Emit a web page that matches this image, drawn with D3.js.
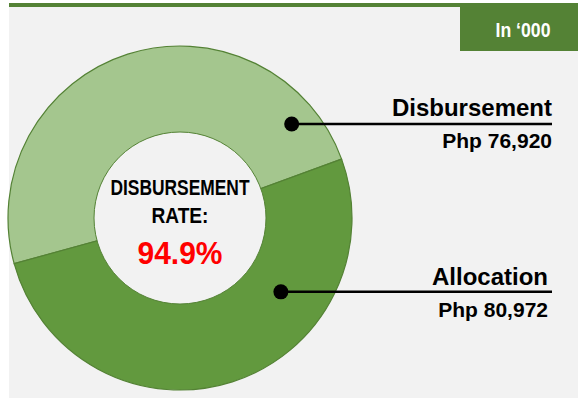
<!DOCTYPE html>
<html>
<head>
<meta charset="utf-8">
<script src="https://cdn.jsdelivr.net/npm/d3@7"></script>
<style>
  body { margin: 0; background: #fff; }
</style>
</head>
<body>
<div id="donut_part"></div>
<script>
// data
var categories = ["Disbursement", "Allocation"]
var amounts = [76920, 80972]
var amountLabels = ["Php 76,920", "Php 80,972"]
var rateLabel = "94.9%"
var unitLabel = "In \u2018000"

var width = 578,
    height = 401

var cx = 180,
    cy = 218,
    radius = 172,
    innerRadius = 86

var svg = d3.select("#donut_part")
            .append("svg")
            .attr("width", width)
            .attr("height", height)

// panel + top green strip
svg.append("rect")
    .attr("x", 9).attr("y", 7)
    .attr("width", width - 9).attr("height", height - 10)
    .style("fill", "#f2f2f2")
svg.append("rect")
    .attr("x", 9).attr("y", 3)
    .attr("width", width - 9).attr("height", 4)
    .style("fill", "#548235")

// unit badge
svg.append("rect")
    .attr("x", 460).attr("y", 7)
    .attr("width", width - 460).attr("height", 44)
    .style("fill", "#548235")
svg.append("text")
    .text(unitLabel)
    .attr("x", 523).attr("y", 37)
    .attr("text-anchor", "middle")
    .attr("textLength", 55)
    .attr("lengthAdjust", "spacingAndGlyphs")
    .style("fill", "#fff")
    .style("font-size", "21px")
    .style("font-weight", "bold")
    .style("font-family", "'Liberation Sans Narrow', 'Liberation Sans', Arial, sans-serif")

var data = categories.map(function(c, i) { return { name: c, value: amounts[i], label: amountLabels[i] } })

// start angle picked so the split sits like in the original
var start = -105.4 * Math.PI / 180
var pie = d3.pie()
            .sort(null)
            .startAngle(start)
            .endAngle(start + 2 * Math.PI)
            .value(function(d) { return d.value })

var slices = pie(data)

var arc = d3.arc()
            .innerRadius(0)
            .outerRadius(radius)

var color = d3.scaleOrdinal()
            .domain(categories)
            .range(["#a4c68e", "#62993e"])

var g = svg.append("g")
            .attr("transform", "translate(" + cx + "," + cy + ")")

g.selectAll("path.slice")
    .data(slices)
    .enter()
    .append("path")
    .attr("class", "slice")
    .attr("d", arc)
    .attr("fill", function(d) { return color(d.data.name) })
    .style("stroke", "#548235")
    .style("stroke-width", 1.2)

// hole
g.append("circle")
    .attr("r", innerRadius)
    .style("fill", "#f2f2f2")
    .style("stroke", "#548235")
    .style("stroke-width", 1)

var centerFont = "'Liberation Sans Narrow', 'Liberation Sans', Arial, sans-serif"
g.append("text")
    .text("DISBURSEMENT")
    .attr("x", 0).attr("y", -23)
    .attr("text-anchor", "middle")
    .attr("textLength", 139)
    .attr("lengthAdjust", "spacingAndGlyphs")
    .style("font-size", "22px")
    .style("font-weight", "bold")
    .style("font-family", centerFont)
g.append("text")
    .text("RATE:")
    .attr("x", 0).attr("y", 5)
    .attr("text-anchor", "middle")
    .attr("textLength", 57)
    .attr("lengthAdjust", "spacingAndGlyphs")
    .style("font-size", "22px")
    .style("font-weight", "bold")
    .style("font-family", centerFont)
g.append("text")
    .text(rateLabel)
    .attr("x", 0).attr("y", 46)
    .attr("text-anchor", "middle")
    .attr("textLength", 85)
    .attr("lengthAdjust", "spacingAndGlyphs")
    .style("fill", "#ff0000")
    .style("font-size", "32px")
    .style("font-weight", "bold")
    .style("font-family", centerFont)

// callouts: marker angle / distance inside each slice, label right edge and baselines
var callouts = [
    { angle: 49.9, dist: 146, right: 552, nameY: 116, valueY: 148 },
    { angle: 126.2, dist: 125, right: 548, nameY: 285, valueY: 317 }
]

slices.forEach(function(s, i) {
    var c = callouts[i]
    var p = d3.pointRadial(c.angle * Math.PI / 180, c.dist)
    var px = cx + p[0], py = cy + p[1]

    svg.append("line")
        .attr("x1", px).attr("y1", py)
        .attr("x2", 552).attr("y2", py)
        .style("stroke", "#000")
        .style("stroke-width", 2.5)
    svg.append("circle")
        .attr("cx", px).attr("cy", py)
        .attr("r", 7.5)
        .style("fill", "#000")

    svg.append("text")
        .text(s.data.name)
        .attr("x", c.right).attr("y", c.nameY)
        .attr("text-anchor", "end")
        .style("font-size", "24px")
        .style("font-weight", "bold")
        .style("font-family", "'Liberation Sans', Arial, sans-serif")
    svg.append("text")
        .text(s.data.label)
        .attr("x", c.right).attr("y", c.valueY)
        .attr("text-anchor", "end")
        .style("font-size", "21px")
        .style("font-weight", "bold")
        .style("font-family", "'Liberation Sans', Arial, sans-serif")
})
</script>
</body>
</html>
